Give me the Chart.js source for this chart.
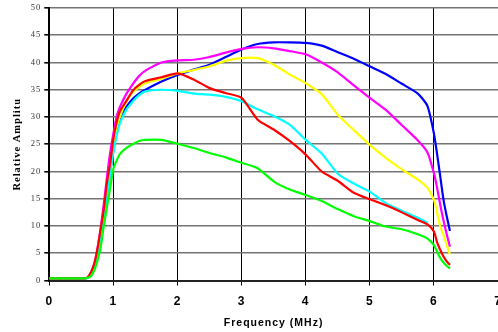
<!DOCTYPE html>
<html>
<head>
<meta charset="utf-8">
<script src="https://cdn.jsdelivr.net/npm/chart.js@4.4.0/dist/chart.umd.min.js"></script>
<style>
  body { margin: 0; background: #fff; }
  canvas { display: block; }
</style>
</head>
<body>
<canvas id="ampChart" width="498" height="332"></canvas>
<script>
// frequency grid (MHz) shared by all curves
var freq = [0, 0.55, 0.6, 0.65, 0.7, 0.75, 0.8, 0.85, 0.9, 0.95, 1.0, 1.05, 1.1, 1.2, 1.3, 1.4, 1.5, 1.75, 2.0, 2.25, 2.5, 2.75, 3.0, 3.25, 3.5, 3.75, 4.0, 4.25, 4.5, 4.75, 5.0, 5.25, 5.5, 5.75, 5.9, 6.0, 6.05, 6.1, 6.15, 6.2, 6.25];

var green   = [0.4, 0.4, 0.5, 0.8, 1.8, 3.6, 6.0, 10.0, 13.5, 17.0, 20.5, 22.0, 23.2, 24.3, 25.0, 25.6, 25.8, 25.8, 25.1, 24.3, 23.4, 22.6, 21.6, 20.6, 18.2, 16.7, 15.7, 14.6, 13.1, 11.8, 10.9, 9.9, 9.4, 8.5, 7.7, 6.5, 5.3, 4.1, 3.3, 2.7, 2.2];
var red     = [0.4, 0.4, 0.6, 1.5, 3.0, 5.7, 9.3, 13.0, 18.0, 21.5, 26.0, 29.0, 31.0, 32.9, 34.8, 35.9, 36.6, 37.3, 38.0, 36.9, 35.3, 34.4, 33.5, 29.5, 27.7, 25.6, 23.1, 20.0, 18.3, 16.1, 14.9, 13.8, 12.5, 11.1, 10.3, 9.0, 7.0, 5.6, 4.4, 3.5, 2.85];
var cyan    = [0.4, 0.4, 0.5, 1.3, 2.6, 5.0, 8.3, 12.0, 15.5, 19.5, 23.5, 26.5, 28.8, 31.3, 32.8, 34.0, 34.7, 35.0, 34.8, 34.3, 34.1, 33.7, 32.9, 31.4, 30.2, 28.6, 25.8, 23.3, 19.6, 17.8, 16.3, 14.2, 12.8, 11.5, 10.6, null, null, null, null, null, null];
var yellow  = [0.4, 0.4, 0.5, 1.4, 2.8, 5.2, 8.8, 12.5, 16.5, 20.5, 25.0, 28.0, 30.0, 32.8, 34.5, 35.5, 36.2, 37.0, 38.0, 38.6, 39.3, 40.3, 40.8, 40.8, 39.6, 37.8, 36.2, 34.2, 30.4, 27.6, 24.9, 22.5, 20.4, 18.5, 17.0, 14.8, 12.5, 9.9, 8.3, 6.5, 4.8];
var magenta = [0.4, 0.4, 0.6, 1.5, 3.0, 5.8, 9.5, 14.0, 19.0, 23.5, 27.0, 30.0, 31.8, 34.2, 36.0, 37.5, 38.5, 40.0, 40.4, 40.5, 41.0, 41.8, 42.5, 42.8, 42.6, 42.1, 41.5, 40.0, 38.2, 35.8, 33.5, 31.3, 28.5, 25.7, 23.5, 19.7, 17.0, 13.8, 11.0, 8.5, 6.2];
var blue    = [0.4, 0.4, 0.5, 1.3, 2.6, 5.0, 8.5, 12.0, 16.0, 20.0, 24.0, 27.0, 29.5, 31.8, 33.3, 34.3, 35.0, 36.5, 37.7, 38.7, 39.6, 41.0, 42.4, 43.4, 43.7, 43.7, 43.6, 43.1, 41.9, 40.7, 39.3, 37.9, 36.1, 34.3, 32.0, 27.0, 23.2, 19.0, 14.8, 11.8, 9.1];

var xTicks = [0, 1, 2, 3, 4, 5, 6, 7];
var yTicks = [0, 5, 10, 15, 20, 25, 30, 35, 40, 45, 50];

function pts(values) {
    return freq.map(function (f, i) { return { x: f, y: values[i] }; });
}

function line(values, colour) {
    return {
        data: pts(values),
        borderColor: colour,
        backgroundColor: colour,
        borderWidth: 2.2,
        pointRadius: 0,
        fill: false,
        tension: 0.2,
        showLine: true
    };
}

// the old spreadsheet axis titles are drawn a bit spaced out
var spacedText = {
    id: 'spacedText',
    beforeDraw: function (chart) { chart.ctx.letterSpacing = '1px'; }
};

new Chart("ampChart", {
    type: 'scatter',
    data: {
        // first dataset is painted on top
        datasets: [
            line(green, "#00FF00"),
            line(red, "#FF0000"),
            line(cyan, "#00FFFF"),
            line(yellow, "#FFFF00"),
            line(magenta, "#FF00FF"),
            line(blue, "#0000FF")
        ]
    },
    plugins: [spacedText],
    options: {
        responsive: false,
        animation: false,
        layout: { padding: { left: 0, top: 8, right: -2, bottom: 0 } },
        plugins: { legend: { display: false }, tooltip: { enabled: false } },
        scales: {
            x: {
                type: 'linear',
                min: 0,
                max: 7,
                afterBuildTicks: function (s) { s.ticks = xTicks.map(function (v) { return { value: v }; }); },
                afterFit: function (s) { s.height = 51.5; s.paddingLeft = 0; s.paddingRight = 0; },
                grid: { color: '#000', lineWidth: 1, tickLength: 5, tickColor: '#000' },
                border: { color: '#222', width: 2 },
                ticks: {
                    color: '#000',
                    padding: 9,
                    font: { family: 'Liberation Sans', size: 12, weight: 'bold' }
                },
                title: {
                    display: true,
                    text: 'Frequency (MHz)',
                    color: '#000',
                    padding: { top: 0, bottom: 3 },
                    font: { family: 'Liberation Sans', size: 10.5, weight: 'bold' }
                }
            },
            y: {
                min: 0,
                max: 50,
                afterBuildTicks: function (s) { s.ticks = yTicks.map(function (v) { return { value: v }; }); },
                afterFit: function (s) { s.width = 49.3; s.paddingTop = 0; s.paddingBottom = 0; },
                grid: { color: '#747474', lineWidth: 1.6, tickLength: 5, tickColor: '#000' },
                border: { color: '#000', width: 2 },
                ticks: {
                    color: '#333',
                    padding: 3,
                    font: { family: 'Liberation Serif', size: 8.5 }
                },
                title: {
                    display: true,
                    text: 'Relative Amplitu',
                    color: '#000',
                    padding: { top: 11, bottom: 0 },
                    font: { family: 'Liberation Serif', size: 10.5, weight: 'bold' }
                }
            }
        }
    }
});
</script>
</body>
</html>
